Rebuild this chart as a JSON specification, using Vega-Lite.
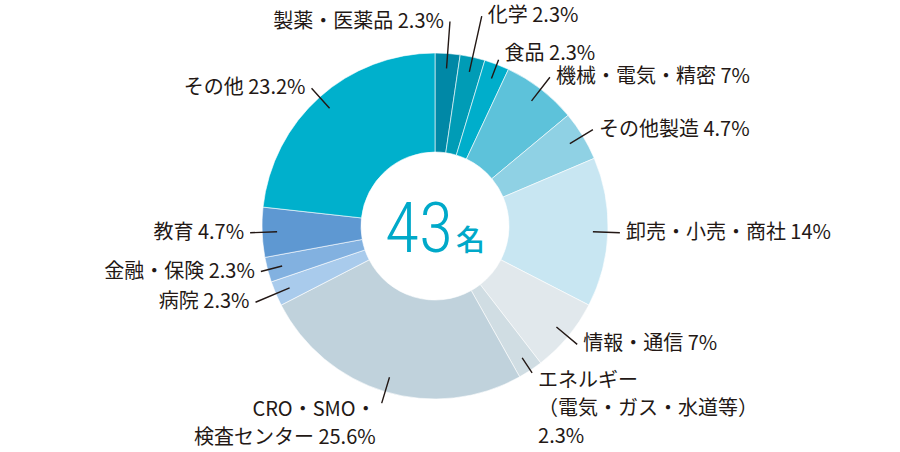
{
  "$schema": "https://vega.github.io/schema/vega-lite/v6.json",
  "width": 870,
  "height": 452,
  "padding": 0,
  "autosize": {"type": "none"},
  "background": "white",
  "config": {
    "view": {"stroke": null},
    "text": {"font": "Noto Sans CJK JP", "fontSize": 20, "color": "#231815"},
    "arc": {"padAngle": 3, "fill": "transparent", "stroke": "#231815", "strokeWidth": 1.4, "radius2": 158}
  },
  "data": {
    "values": [
      {"idx": 1, "name": "製薬・医薬品", "count": 1, "pct": 2.3, "label": "製薬・医薬品 2.3%"},
      {"idx": 2, "name": "化学", "count": 1, "pct": 2.3, "label": "化学 2.3%"},
      {"idx": 3, "name": "食品", "count": 1, "pct": 2.3, "label": "食品 2.3%"},
      {"idx": 4, "name": "機械・電気・精密", "count": 3, "pct": 7, "label": "機械・電気・精密 7%"},
      {"idx": 5, "name": "その他製造", "count": 2, "pct": 4.7, "label": "その他製造 4.7%"},
      {"idx": 6, "name": "卸売・小売・商社", "count": 6, "pct": 14, "label": "卸売・小売・商社 14%"},
      {"idx": 7, "name": "情報・通信", "count": 3, "pct": 7, "label": "情報・通信 7%"},
      {"idx": 8, "name": "エネルギー（電気・ガス・水道等）", "count": 1, "pct": 2.3, "label": ["エネルギー", "（電気・ガス・水道等）", "2.3%"]},
      {"idx": 9, "name": "CRO・SMO・検査センター", "count": 11, "pct": 25.6, "label": ["CRO・SMO・", "検査センター 25.6%"]},
      {"idx": 10, "name": "病院", "count": 1, "pct": 2.3, "label": "病院 2.3%"},
      {"idx": 11, "name": "金融・保険", "count": 1, "pct": 2.3, "label": "金融・保険 2.3%"},
      {"idx": 12, "name": "教育", "count": 2, "pct": 4.7, "label": "教育 4.7%"},
      {"idx": 13, "name": "その他", "count": 10, "pct": 23.2, "label": "その他 23.2%"}
    ]
  },
  "layer": [
    {
      "encoding": {
        "theta": {"field": "count", "type": "quantitative", "stack": true},
        "order": {"field": "idx", "type": "quantitative"},
        "detail": {"field": "name", "type": "nominal"}
      },
      "layer": [
        {
          "mark": {"type": "arc", "radius": 173, "radius2": 74, "padAngle": 0, "stroke": "#ffffff", "strokeWidth": 0.6},
          "encoding": {
            "color": {
              "field": "name",
              "type": "nominal",
              "legend": null,
              "scale": {
                "domain": ["製薬・医薬品", "化学", "食品", "機械・電気・精密", "その他製造", "卸売・小売・商社", "情報・通信", "エネルギー（電気・ガス・水道等）", "CRO・SMO・検査センター", "病院", "金融・保険", "教育", "その他"],
                "range": ["#0088a6", "#009cb6", "#00aecb", "#5dc2da", "#8fd1e4", "#c8e6f2", "#e1e8ec", "#d0dde3", "#c0d2dc", "#a9cbec", "#82b1e0", "#5e98d2", "#00b0cc"]
              }
            }
          }
        },
        {
          "mark": {"type": "arc", "radius": 215},
          "encoding": {"strokeOpacity": {"condition": {"test": "datum.name === '化学'", "value": 1}, "value": 0}}
        },
        {
          "mark": {"type": "arc", "radius": 205},
          "encoding": {"strokeOpacity": {"condition": {"test": "datum.name === '製薬・医薬品'", "value": 1}, "value": 0}}
        },
        {
          "mark": {"type": "arc", "radius": 178},
          "encoding": {"strokeOpacity": {"condition": {"test": "datum.name === '食品'", "value": 1}, "value": 0}}
        },
        {
          "mark": {"type": "arc", "radius": 188},
          "encoding": {"strokeOpacity": {"condition": {"test": "datum.name === '機械・電気・精密'", "value": 1}, "value": 0}}
        },
        {
          "mark": {"type": "arc", "radius": 185},
          "encoding": {"strokeOpacity": {"condition": {"test": "indexof(['その他製造', '卸売・小売・商社', '情報・通信', 'CRO・SMO・検査センター', '教育', 'その他'], datum.name) >= 0", "value": 1}, "value": 0}}
        },
        {
          "mark": {"type": "arc", "radius": 176},
          "encoding": {"strokeOpacity": {"condition": {"test": "datum.name === 'エネルギー（電気・ガス・水道等）'", "value": 1}, "value": 0}}
        },
        {
          "mark": {"type": "arc", "radius": 180},
          "encoding": {"strokeOpacity": {"condition": {"test": "datum.name === '金融・保険'", "value": 1}, "value": 0}}
        },
        {
          "mark": {"type": "arc", "radius": 195},
          "encoding": {"strokeOpacity": {"condition": {"test": "datum.name === '病院'", "value": 1}, "value": 0}}
        },
        {
          "mark": {"type": "text", "radius": 205, "align": "right", "baseline": "middle", "dx": -6},
          "encoding": {"text": {"condition": {"test": "datum.name === '製薬・医薬品'", "field": "label", "type": "nominal"}, "value": ""}}
        },
        {
          "mark": {"type": "text", "radius": 215, "align": "left", "baseline": "middle", "dx": 6},
          "encoding": {"text": {"condition": {"test": "datum.name === '化学'", "field": "label", "type": "nominal"}, "value": ""}}
        },
        {
          "mark": {"type": "text", "radius": 178, "align": "left", "baseline": "bottom", "dx": 6, "dy": 4},
          "encoding": {"text": {"condition": {"test": "datum.name === '食品'", "field": "label", "type": "nominal"}, "value": ""}}
        },
        {
          "mark": {"type": "text", "radius": 188, "align": "left", "baseline": "middle", "dx": 6},
          "encoding": {"text": {"condition": {"test": "datum.name === '機械・電気・精密'", "field": "label", "type": "nominal"}, "value": ""}}
        },
        {
          "mark": {"type": "text", "radius": 185, "align": "left", "baseline": "middle", "dx": 6},
          "encoding": {"text": {"condition": {"test": "indexof(['その他製造', '卸売・小売・商社', '情報・通信'], datum.name) >= 0", "field": "label", "type": "nominal"}, "value": ""}}
        },
        {
          "mark": {"type": "text", "radius": 176, "align": "left", "baseline": "top", "dx": 6, "dy": -2, "lineHeight": 28},
          "encoding": {"text": {"condition": {"test": "datum.name === 'エネルギー（電気・ガス・水道等）'", "field": "label", "type": "nominal"}, "value": ""}}
        },
        {
          "mark": {"type": "text", "radius": 185, "align": "right", "baseline": "top", "dx": -6, "dy": -3, "lineHeight": 28},
          "encoding": {"text": {"condition": {"test": "datum.name === 'CRO・SMO・検査センター'", "field": "label", "type": "nominal"}, "value": ""}}
        },
        {
          "mark": {"type": "text", "radius": 185, "align": "right", "baseline": "middle", "dx": -6},
          "encoding": {"text": {"condition": {"test": "indexof(['教育', 'その他'], datum.name) >= 0", "field": "label", "type": "nominal"}, "value": ""}}
        },
        {
          "mark": {"type": "text", "radius": 180, "align": "right", "baseline": "middle", "dx": -6},
          "encoding": {"text": {"condition": {"test": "datum.name === '金融・保険'", "field": "label", "type": "nominal"}, "value": ""}}
        },
        {
          "mark": {"type": "text", "radius": 195, "align": "right", "baseline": "middle", "dx": -6},
          "encoding": {"text": {"condition": {"test": "datum.name === '病院'", "field": "label", "type": "nominal"}, "value": ""}}
        }
      ]
    },
    {
      "transform": [{"aggregate": [{"op": "sum", "field": "count", "as": "total"}]}],
      "layer": [
        {
          "mark": {"type": "text", "font": "Roboto Condensed, Liberation Sans Narrow, Roboto", "fontSize": 70, "fontWeight": 300, "color": "#00a9c9", "align": "right", "baseline": "alphabetic", "dx": 18, "dy": 26},
          "encoding": {"text": {"field": "total", "type": "quantitative"}}
        },
        {
          "mark": {"type": "text", "text": "名", "fontSize": 29, "fontWeight": 500, "color": "#00a9c9", "align": "left", "baseline": "alphabetic", "dx": 21, "dy": 25},
          "encoding": {}
        }
      ]
    }
  ]
}
